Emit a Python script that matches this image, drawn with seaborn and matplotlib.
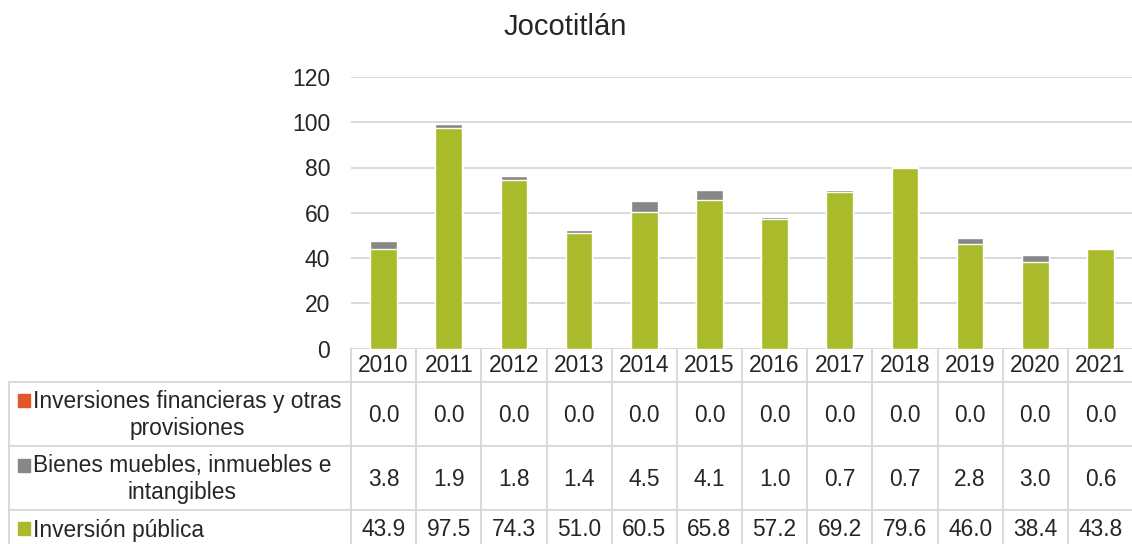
import matplotlib
matplotlib.use("Agg")
import matplotlib.pyplot as plt
import matplotlib.transforms as mtrans
from matplotlib.patches import Rectangle
import seaborn as sns
import numpy as np

# ---- data ----
years = ["2010", "2011", "2012", "2013", "2014", "2015", "2016", "2017", "2018", "2019", "2020", "2021"]
inversion_publica = [43.9, 97.5, 74.3, 51.0, 60.5, 65.8, 57.2, 69.2, 79.6, 46.0, 38.4, 43.8]
bienes_muebles = [3.8, 1.9, 1.8, 1.4, 4.5, 4.1, 1.0, 0.7, 0.7, 2.8, 3.0, 0.6]
inversiones_fin = [0.0] * 12
series_labels = ["Inversiones financieras y otras\nprovisiones",
                 "Bienes muebles, inmuebles e\nintangibles",
                 "Inversión pública"]
title = "Jocotitlán"
yticks = [0, 20, 40, 60, 80, 100, 120]

GREEN = "#A9BA2A"
GRAY = "#878787"
ORANGE = "#E4562A"
LINE = "#D9D9D9"

sns.set_style("white")
plt.rcParams["font.family"] = ["Liberation Sans", "DejaVu Sans"]

W, H = 1132, 544
fig = plt.figure(figsize=(W / 100, H / 100), dpi=100)

# plot axes placed in pixel coordinates
x0, x1 = 351, 1133
y_top, y_zero = 77, 348.5
ax = fig.add_axes([x0 / W, (H - y_zero) / H, (x1 - x0) / W, (y_zero - y_top) / H])

inv = np.array(inversion_publica)
bie = np.array(bienes_muebles)
fin = np.array(inversiones_fin)

sns.barplot(x=years, y=inv + bie + fin, color=ORANGE, width=0.41, saturation=1, ax=ax, zorder=3)
sns.barplot(x=years, y=inv + bie, color=GRAY, width=0.41, saturation=1, ax=ax, zorder=3)
sns.barplot(x=years, y=inv, color=GREEN, width=0.41, saturation=1, ax=ax, zorder=3)

ax.set_xlim(-0.5, 11.5)
ax.set_ylim(0, 120)
ax.set_yticks(yticks)
ax.set_yticklabels([str(v) for v in yticks], fontsize=16.5)
ax.tick_params(axis="y", length=0, pad=15)
ax.set_xticks([])
ax.set_xlabel("")
ax.set_ylabel("")
for s in ax.spines.values():
    s.set_visible(False)
ax.yaxis.grid(True, color=LINE, linewidth=1.4, zorder=0)
ax.set_axisbelow(True)

# ---- table below ----
tax = fig.add_axes([0, 0, 1, 1], zorder=-1)
tax.set_xlim(0, W)
tax.set_ylim(H, 0)
tax.axis("off")
tr = mtrans.blended_transform_factory(ax.transData, tax.transData)

hdr_top, hdr_bot = 348, 382
row_bounds = [382, 446, 510, 546]
lbl_left = 9
lw = 1.4

n = len(years)
for k in range(n + 1):
    xd = -0.5 + k
    tax.plot([xd, xd], [hdr_top, H + 2], transform=tr, color=LINE, lw=lw, clip_on=False)
tax.plot([-0.5, n - 0.5], [hdr_top, hdr_top], transform=tr, color=LINE, lw=lw)
for yb in row_bounds:
    tax.plot([lbl_left, W], [yb, yb], color=LINE, lw=lw)
tax.plot([lbl_left, lbl_left], [hdr_bot, H + 2], color=LINE, lw=lw)

fs = 16.4
hdr_y = 366
for i, yr in enumerate(years):
    tax.text(i, hdr_y, yr, transform=tr, ha="center", va="center", fontsize=fs)

rows = [inversiones_fin, bienes_muebles, inversion_publica]
row_centers = [415, 479, 530]
for vals, yc in zip(rows, row_centers):
    for i, v in enumerate(vals):
        tax.text(i, yc, f"{v:.1f}", transform=tr, ha="center", va="center", fontsize=fs)

# row labels
tax.text(187, 415, series_labels[0], ha="center", va="center", fontsize=fs,
         multialignment="center", linespacing=1.22)
tax.add_patch(Rectangle((18, 394), 12, 13, color=ORANGE))
tax.text(182, 479, series_labels[1], ha="center", va="center", fontsize=fs,
         multialignment="center", linespacing=1.22)
tax.add_patch(Rectangle((18, 459), 12, 13, color=GRAY))
tax.text(33, 531, series_labels[2], ha="left", va="center", fontsize=fs)
tax.add_patch(Rectangle((18, 522), 12, 13, color=GREEN))

fig.text(565 / W, 1 - 27 / H, title, ha="center", va="center", fontsize=21)

fig.savefig("out.png", dpi=100)
